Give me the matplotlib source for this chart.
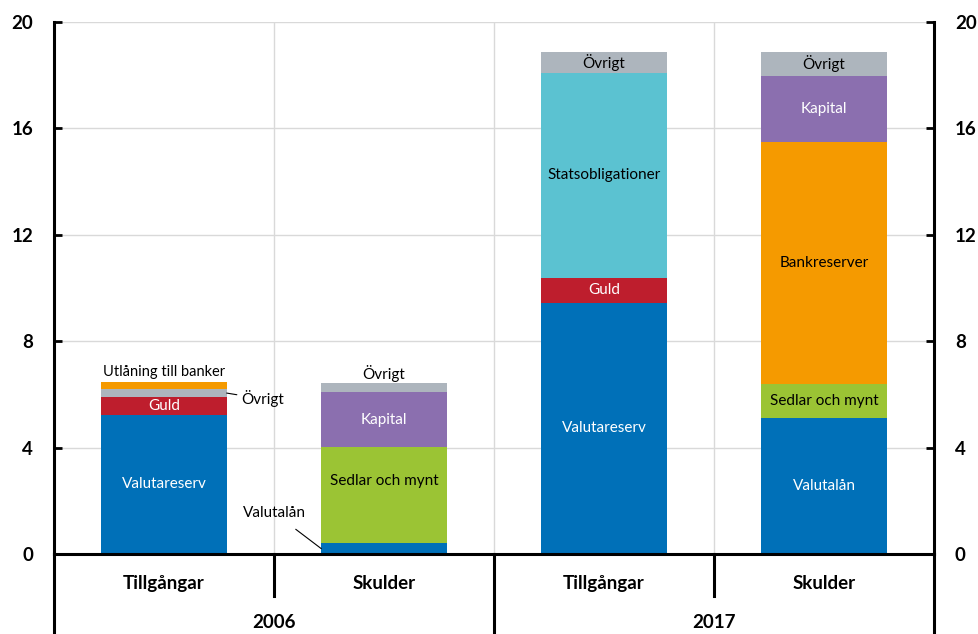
import matplotlib.pyplot as plt
import matplotlib.transforms as mtransforms
from matplotlib import rcParams

rcParams['font.family'] = ['Lato', 'DejaVu Sans']
rcParams['font.size'] = 11

# balance sheet, billions... stacked per bar from the bottom
years = ['2006', '2017']
sides = ['Tillgångar', 'Skulder']

bars = [
    # 2006 Tillgångar
    [('Valutareserv', 5.23), ('Guld', 0.68), ('Övrigt', 0.28), ('Utlåning till banker', 0.29)],
    # 2006 Skulder
    [('Valutalån', 0.40), ('Sedlar och mynt', 3.62), ('Kapital', 2.07), ('Övrigt', 0.34)],
    # 2017 Tillgångar
    [('Valutareserv', 9.45), ('Guld', 0.94), ('Statsobligationer', 7.71), ('Övrigt', 0.78)],
    # 2017 Skulder
    [('Valutalån', 5.11), ('Sedlar och mynt', 1.28), ('Bankreserver', 9.10), ('Kapital', 2.48), ('Övrigt', 0.91)],
]

colors = {
    'Valutareserv': '#0070b8',
    'Valutalån': '#0070b8',
    'Guld': '#be1e2d',
    'Övrigt': '#adb5bd',
    'Utlåning till banker': '#f59a00',
    'Bankreserver': '#f59a00',
    'Sedlar och mynt': '#9bc434',
    'Kapital': '#8b6faf',
    'Statsobligationer': '#5bc2d1',
}
white_text = {'Valutareserv', 'Valutalån', 'Guld', 'Kapital'}

# segments labelled outside the bar instead of inside
outside = {(0, 'Övrigt'), (0, 'Utlåning till banker'), (1, 'Övrigt'), (1, 'Valutalån')}

fig = plt.figure(figsize=(9.79, 6.34), dpi=100)
ax = fig.add_axes([54 / 979, 80 / 634, 880 / 979, 532 / 634])

width = 0.57
for i, segs in enumerate(bars):
    x = i + 0.5
    bottom = 0
    for name, val in segs:
        ax.bar(x, val, width, bottom=bottom, color=colors[name], zorder=2)
        if (i, name) not in outside:
            y = bottom + val / 2
            if i == 1 and name == 'Sedlar och mynt':
                y = 2.75
            ax.text(x, y, name, ha='center', va='center', fontsize=11,
                    color='white' if name in white_text else 'black', zorder=3)
        bottom += val

# labels for the thin segments
b0 = bars[0]
top0 = sum(v for _, v in b0)
ax.text(0.5, top0 + 0.35, 'Utlåning till banker', ha='center', va='center', fontsize=10.5)
ovr_y = b0[0][1] + b0[1][1] + b0[2][1] / 2
ax.annotate('Övrigt', xy=(0.5 + width / 2, ovr_y), xytext=(0.85, ovr_y - 0.22),
            ha='left', va='center', fontsize=11,
            arrowprops=dict(arrowstyle='-', color='black', lw=0.8, shrinkA=1, shrinkB=0))
top1 = sum(v for _, v in bars[1])
ax.text(1.5, top1 + 0.35, 'Övrigt', ha='center', va='center', fontsize=11)
ax.annotate('Valutalån', xy=(1.5 - width / 2, 0.2), xytext=(1.0, 1.55),
            ha='center', va='center', fontsize=11,
            arrowprops=dict(arrowstyle='-', color='black', lw=0.8, shrinkA=8, shrinkB=0))

ax.set_xlim(0, 4)
ax.set_ylim(0, 20)
ax.set_yticks([0, 4, 8, 12, 16, 20])
ax.set_xticks([1, 2, 3])
ax.set_xticklabels([])
ax.tick_params(axis='x', length=0)
ax.tick_params(axis='y', direction='in', length=6, width=2, labelsize=13.5,
               right=True, labelright=True, pad=15)
for lab in ax.get_yticklabels():
    lab.set_fontweight('bold')

ax.grid(True, color='#d9d9d9', lw=1, zorder=0)
ax.set_axisbelow(True)
ax.spines['top'].set_visible(False)
for s in ['left', 'right', 'bottom']:
    ax.spines[s].set_linewidth(2.2)

# category axis below the plot
trans = mtransforms.blended_transform_factory(ax.transData, ax.transAxes)
for x in [0, 2, 4]:
    ax.plot([x, x], [0, -0.16], color='black', lw=2.2, transform=trans, clip_on=False)
for x in [1, 3]:
    ax.plot([x, x], [0, -0.079], color='black', lw=2.2, transform=trans, clip_on=False)
for i in range(4):
    ax.text(i + 0.5, -0.055, sides[i % 2], transform=trans, ha='center', va='center',
            fontsize=13.5, fontweight='bold')
for j, yr in enumerate(years):
    ax.text(2 * j + 1, -0.128, yr, transform=trans, ha='center', va='center',
            fontsize=13.5, fontweight='bold')

fig.savefig('out.png', dpi=100)
